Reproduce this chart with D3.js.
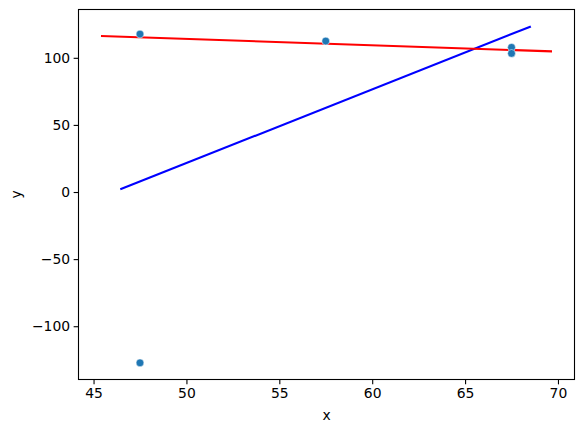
<!DOCTYPE html>
<html><head><meta charset="utf-8">
<script src="https://cdn.jsdelivr.net/npm/d3@7"></script>
<style>body{margin:0;background:#fff}svg{display:block}text{font-family:"DejaVu Sans",sans-serif}</style>
</head><body>
<svg id="c" width="583" height="432"></svg>
<script>
const pointX = [47.5, 57.5, 67.5, 67.5, 47.5];
const pointY = [117.7, 112.5, 107.8, 103.3, -127.3];
const redLineX = [45.4, 69.68];
const redLineY = [116.2, 104.8];
const blueLineX = [46.44, 68.54];
const blueLineY = [2.0, 123.4];
const xTicks = [45, 50, 55, 60, 65, 70];
const yTicks = [-100, -50, 0, 50, 100];
const xDomain = [44.19, 70.89];
const yDomain = [-139.7, 136];

const svg = d3.select("#c");
const L = 78.5, R = 574.5, T = 9.5, B = 379.5;
const x = d3.scaleLinear().domain(xDomain).range([L, R]);
const y = d3.scaleLinear().domain(yDomain).range([B, T]);
const fs = "13.9px";

const line = d3.line().x(d => x(d[0])).y(d => y(d[1]));
svg.append("path").datum(d3.zip(blueLineX, blueLineY)).attr("d", line)
  .attr("fill", "none").attr("stroke", "blue").attr("stroke-width", 2.08);
svg.append("path").datum(d3.zip(redLineX, redLineY)).attr("d", line)
  .attr("fill", "none").attr("stroke", "red").attr("stroke-width", 2.08);

svg.append("g").selectAll("circle").data(d3.zip(pointX, pointY)).join("circle")
  .attr("cx", d => x(d[0])).attr("cy", d => y(d[1])).attr("r", 3.9)
  .attr("fill", "#1f77b4").attr("stroke", "#fff").attr("stroke-width", 0.5);

const xa = svg.append("g").attr("transform", `translate(0,${B})`)
  .call(d3.axisBottom(x).tickValues(xTicks).tickSize(4.86).tickPadding(3.5).tickFormat(d3.format("d")));
const ya = svg.append("g").attr("transform", `translate(${L},0)`)
  .call(d3.axisLeft(y).tickValues(yTicks).tickSize(4.86).tickPadding(3.5)
    .tickFormat(d => d < 0 ? "\u2212" + Math.abs(d) : String(d)));
[xa, ya].forEach(a => {
  a.select(".domain").remove();
  a.selectAll(".tick line").attr("stroke", "#000").attr("stroke-width", 1.1);
  a.selectAll(".tick text").attr("fill", "#000").style("font-size", fs).style("font-family", "DejaVu Sans");
});
svg.append("rect").attr("x", L).attr("y", T).attr("width", R - L).attr("height", B - T)
  .attr("fill", "none").attr("stroke", "#000").attr("stroke-width", 1.1);

svg.append("text").attr("x", (L + R) / 2).attr("y", 420).attr("text-anchor", "middle")
  .style("font-size", fs).text("x");
svg.append("text").attr("transform", `translate(21,${(T + B) / 2}) rotate(-90)`)
  .attr("text-anchor", "middle").style("font-size", fs).text("y");
</script>
</body></html>
